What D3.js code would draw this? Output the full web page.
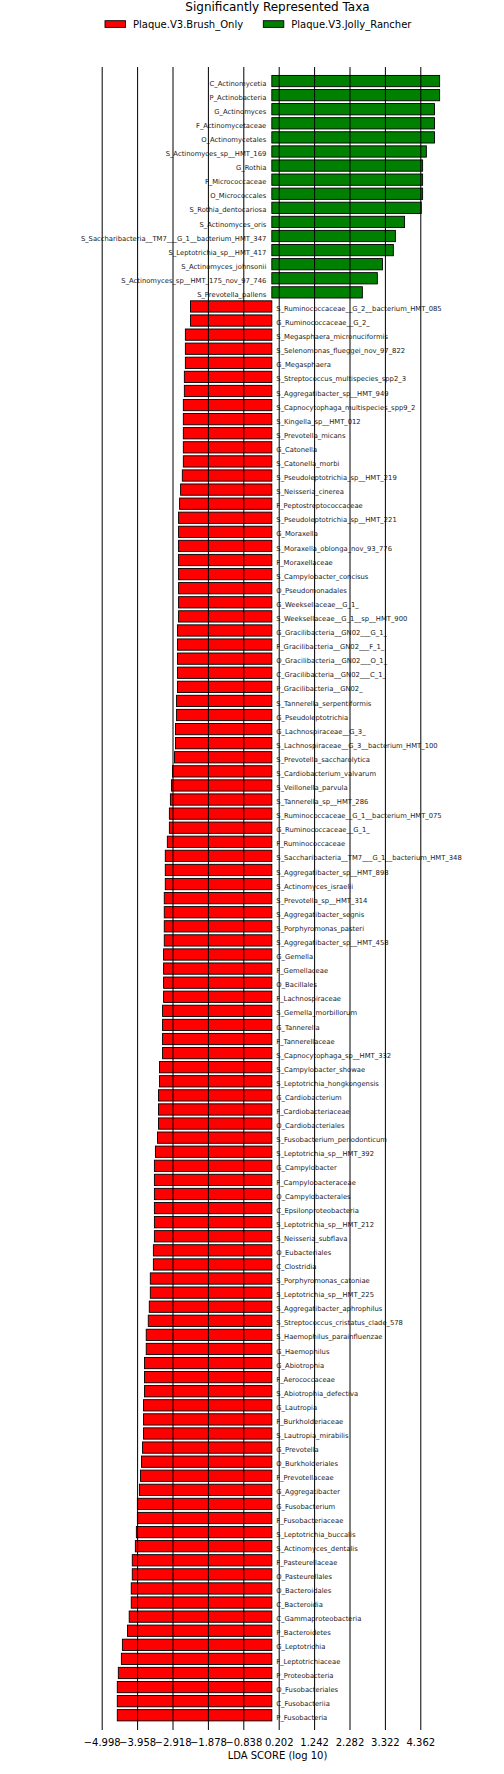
<!DOCTYPE html>
<html lang="en">
<head>
<meta charset="utf-8">
<title>Significantly Represented Taxa</title>
<script src="https://cdn.jsdelivr.net/npm/d3@7"></script>
<style>
  body { margin: 0; background: #fff; }
  svg { display: block; font-family: "DejaVu Sans", sans-serif; }
</style>
</head>
<body>
<div id="chart"></div>
<script>
// the two classes compared
var groupNames = ["Plaque.V3.Brush_Only", "Plaque.V3.Jolly_Rancher"];
var groupColors = ["#ff0000", "#008000"];

// enriched in Jolly_Rancher (positive LDA)
var jollyTaxa = [
  "C_Actinomycetia", "P_Actinobacteria", "G_Actinomyces", "F_Actinomycetaceae",
  "O_Actinomycetales", "S_Actinomyces_sp__HMT_169", "G_Rothia", "F_Micrococcaceae",
  "O_Micrococcales", "S_Rothia_dentocariosa", "S_Actinomyces_oris",
  "S_Saccharibacteria__TM7___G_1__bacterium_HMT_347", "S_Leptotrichia_sp__HMT_417",
  "S_Actinomyces_johnsonii", "S_Actinomyces_sp__HMT_175_nov_97_746", "S_Prevotella_pallens"
];
var jollyLda = [
  4.93, 4.93, 4.78, 4.78, 4.78, 4.54, 4.43, 4.43,
  4.43, 4.39, 3.90, 3.63, 3.57, 3.25, 3.10, 2.66
];

// enriched in Brush_Only (negative LDA)
var brushTaxa = [
  "S_Ruminococcaceae__G_2__bacterium_HMT_085", "G_Ruminococcaceae__G_2_",
  "S_Megasphaera_micronuciformis", "S_Selenomonas_flueggei_nov_97_822", "G_Megasphaera",
  "S_Streptococcus_multispecies_spp2_3", "S_Aggregatibacter_sp__HMT_949",
  "S_Capnocytophaga_multispecies_spp9_2", "S_Kingella_sp__HMT_012", "S_Prevotella_micans",
  "G_Catonella", "S_Catonella_morbi", "S_Pseudoleptotrichia_sp__HMT_219",
  "S_Neisseria_cinerea", "F_Peptostreptococcaceae", "S_Pseudoleptotrichia_sp__HMT_221",
  "G_Moraxella", "S_Moraxella_oblonga_nov_93_776", "F_Moraxellaceae",
  "S_Campylobacter_concisus", "O_Pseudomonadales", "G_Weeksellaceae__G_1_",
  "S_Weeksellaceae__G_1__sp__HMT_900", "G_Gracilibacteria__GN02___G_1_",
  "F_Gracilibacteria__GN02___F_1_", "O_Gracilibacteria__GN02___O_1_",
  "C_Gracilibacteria__GN02___C_1_", "P_Gracilibacteria__GN02_",
  "S_Tannerella_serpentiformis", "G_Pseudoleptotrichia", "G_Lachnospiraceae__G_3_",
  "S_Lachnospiraceae__G_3__bacterium_HMT_100", "S_Prevotella_saccharolytica",
  "S_Cardiobacterium_valvarum", "S_Veillonella_parvula", "S_Tannerella_sp__HMT_286",
  "S_Ruminococcaceae__G_1__bacterium_HMT_075", "G_Ruminococcaceae__G_1_",
  "F_Ruminococcaceae", "S_Saccharibacteria__TM7___G_1__bacterium_HMT_348",
  "S_Aggregatibacter_sp__HMT_898", "S_Actinomyces_israelii", "S_Prevotella_sp__HMT_314",
  "S_Aggregatibacter_segnis", "S_Porphyromonas_pasteri", "S_Aggregatibacter_sp__HMT_458",
  "G_Gemella", "F_Gemellaceae", "O_Bacillales", "F_Lachnospiraceae",
  "S_Gemella_morbillorum", "G_Tannerella", "F_Tannerellaceae",
  "S_Capnocytophaga_sp__HMT_332", "S_Campylobacter_showae",
  "S_Leptotrichia_hongkongensis", "G_Cardiobacterium", "F_Cardiobacteriaceae",
  "O_Cardiobacteriales", "S_Fusobacterium_periodonticum", "S_Leptotrichia_sp__HMT_392",
  "G_Campylobacter", "F_Campylobacteraceae", "O_Campylobacterales",
  "C_Epsilonproteobacteria", "S_Leptotrichia_sp__HMT_212", "S_Neisseria_subflava",
  "O_Eubacteriales", "C_Clostridia", "S_Porphyromonas_catoniae",
  "S_Leptotrichia_sp__HMT_225", "S_Aggregatibacter_aphrophilus",
  "S_Streptococcus_cristatus_clade_578", "S_Haemophilus_parainfluenzae", "G_Haemophilus",
  "G_Abiotrophia", "F_Aerococcaceae", "S_Abiotrophia_defectiva", "G_Lautropia",
  "F_Burkholderiaceae", "S_Lautropia_mirabilis", "G_Prevotella", "O_Burkholderiales",
  "F_Prevotellaceae", "G_Aggregatibacter", "G_Fusobacterium", "F_Fusobacteriaceae",
  "S_Leptotrichia_buccalis", "S_Actinomyces_dentalis", "F_Pasteurellaceae",
  "O_Pasteurellales", "O_Bacteroidales", "C_Bacteroidia", "C_Gammaproteobacteria",
  "P_Bacteroidetes", "G_Leptotrichia", "F_Leptotrichiaceae", "P_Proteobacteria",
  "O_Fusobacteriales", "C_Fusobacteriia", "P_Fusobacteria"
];
var brushLda = [
  -2.39, -2.39, -2.54, -2.54, -2.54, -2.57, -2.57, -2.60, -2.60, -2.60,
  -2.60, -2.60, -2.63, -2.68, -2.71, -2.74, -2.74, -2.74, -2.74, -2.74,
  -2.74, -2.74, -2.74, -2.77, -2.77, -2.77, -2.77, -2.77, -2.80, -2.80,
  -2.83, -2.83, -2.86, -2.92, -2.95, -2.98, -3.01, -3.01, -3.07, -3.13,
  -3.13, -3.13, -3.16, -3.16, -3.16, -3.16, -3.18, -3.18, -3.18, -3.18,
  -3.21, -3.21, -3.21, -3.21, -3.30, -3.30, -3.33, -3.33, -3.33, -3.36,
  -3.42, -3.45, -3.45, -3.45, -3.45, -3.45, -3.45, -3.48, -3.48, -3.57,
  -3.57, -3.60, -3.63, -3.69, -3.69, -3.74, -3.74, -3.74, -3.77, -3.77,
  -3.77, -3.80, -3.83, -3.86, -3.89, -3.95, -3.95, -3.98, -4.01, -4.10,
  -4.10, -4.13, -4.13, -4.19, -4.24, -4.39, -4.42, -4.51, -4.54, -4.54,
  -4.54
];

var tickValues = [-4.998, -3.958, -2.918, -1.878, -0.838, 0.202, 1.242, 2.282, 3.322, 4.362];

var width = 504, height = 1774;

var rows = jollyTaxa.map(function(t, i) { return {name: t, lda: jollyLda[i]}; })
  .concat(brushTaxa.map(function(t, i) { return {name: t, lda: brushLda[i]}; }));

var svg = d3.select("#chart").append("svg")
    .attr("width", width)
    .attr("height", height);

svg.append("rect").attr("width", width).attr("height", height).attr("fill", "#fff");

var x = d3.scaleLinear()
    .domain([tickValues[0], tickValues[tickValues.length - 1]])
    .range([101.7, 420.3]);

var y = d3.scaleBand()
    .domain(rows.map(function(d) { return d.name; }))
    .range([74, 1722.3])
    .paddingInner(0.2)
    .paddingOuter(0.1);

// bars
svg.append("g").selectAll("rect")
  .data(rows)
  .enter().append("rect")
    .attr("x", function(d) { return x(Math.min(0, d.lda)); })
    .attr("y", function(d) { return y(d.name); })
    .attr("width", function(d) { return Math.abs(x(d.lda) - x(0)); })
    .attr("height", y.bandwidth())
    .attr("fill", function(d) { return d.lda > 0 ? groupColors[1] : groupColors[0]; })
    .attr("stroke", "#000")
    .attr("stroke-width", 0.9);

// taxon labels on the other side of zero
svg.append("g").selectAll("text")
  .data(rows)
  .enter().append("text")
    .attr("x", function(d) { return d.lda > 0 ? x(0) - 5.5 : x(0) + 4.5; })
    .attr("y", function(d) { return y(d.name) + y.bandwidth() / 2 + 4.6; })
    .attr("text-anchor", function(d) { return d.lda > 0 ? "end" : "start"; })
    .attr("font-size", "6.8px")
    .attr("fill", "#222")
    .text(function(d) { return d.name; });

// vertical grid lines + tick labels, drawn over the bars
var axis = svg.append("g")
    .attr("transform", "translate(0,1730)")
    .call(d3.axisBottom(x)
      .tickValues(tickValues)
      .tickFormat(d3.format(".3f"))
      .tickSizeInner(-(1730 - 67))
      .tickSizeOuter(0)
      .tickPadding(8.5));
axis.select(".domain").remove();
axis.attr("font-family", "DejaVu Sans").attr("font-size", 10);
axis.selectAll(".tick line").attr("stroke", "#000").attr("stroke-width", 1);
axis.selectAll(".tick text").attr("fill", "#000");

svg.append("text")
    .attr("x", 277.5)
    .attr("y", 1758.5)
    .attr("text-anchor", "middle")
    .attr("font-size", "10px")
    .text("LDA SCORE (log 10)");

// title and legend
svg.append("text")
    .attr("x", 277.5)
    .attr("y", 11)
    .attr("text-anchor", "middle")
    .attr("font-size", "12px")
    .text("Significantly Represented Taxa");

var legendX = [105, 263.3];
var legend = svg.append("g").selectAll("g")
  .data(groupNames)
  .enter().append("g")
    .attr("transform", function(d, i) { return "translate(" + legendX[i] + ",20.7)"; });
legend.append("rect")
    .attr("width", 20.5)
    .attr("height", 6.7)
    .attr("fill", function(d, i) { return groupColors[i]; })
    .attr("stroke", "#000")
    .attr("stroke-width", 0.9);
legend.append("text")
    .attr("x", 28)
    .attr("y", 6.8)
    .attr("font-size", "10px")
    .text(function(d) { return d; });
</script>
</body>
</html>
